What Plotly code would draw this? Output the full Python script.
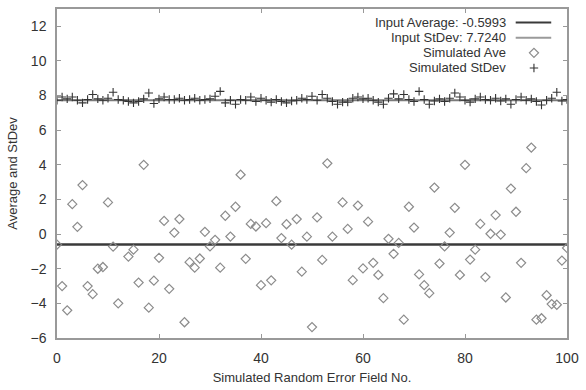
import plotly.graph_objects as go

field_no = list(range(0, 101))

sim_ave = [
    -0.61, -3.00, -4.40, 1.73, 0.42, 2.83, -3.00, -3.47, -2.00, -1.90,
    1.83, -0.72, -4.00, None, -1.30, -0.90, -2.80, 4.00, -4.25, -2.69,
    -1.37, 0.76, -3.16, 0.09, 0.87, -5.09, -1.62, -1.94, -1.41, 0.13,
    -0.71, -0.33, -1.94, 1.06, -0.14, 1.58, 3.43, -1.43, 0.59, 0.44,
    -2.95, 0.63, -2.67, 1.90, -0.23, 0.57, -0.61, 0.87, -2.17, -0.15,
    -5.37, 0.97, -1.49, 4.09, -0.15, None, 1.83, 0.30, -2.66, 1.65,
    -1.98, 0.72, -1.66, -2.36, -3.70, -0.27, -1.14, -0.51, -4.94, 1.58,
    0.38, -2.33, -2.95, -3.41, 2.69, -1.70, -0.71, 0.09, 1.52, -2.36,
    4.00, -1.47, -0.90, 0.59, -2.48, 0.02, 1.10, -0.03, -3.66, 2.63,
    1.29, -1.66, 3.81, 5.00, -4.94, -4.86, -3.53, -4.04, -4.08, -1.53,
    -0.80,
]

sim_std = [
    7.73, 7.92, 7.81, 7.92, 7.73, 7.58, 7.77, 8.06, 7.81, 7.73,
    7.85, 8.19, 7.77, 7.73, 7.66, 7.58, 7.66, 7.81, 8.15, 7.54,
    7.81, 7.92, 7.77, 7.77, 7.85, 7.73, 7.77, 7.85, 7.73, 7.77,
    7.81, 7.96, 8.24, 7.58, 7.73, 7.50, 7.77, 7.73, 7.92, 7.66,
    7.85, 7.73, 7.62, 7.77, 7.66, 7.58, 7.69, 7.73, 7.85, 7.77,
    7.96, 7.73, 8.06, 7.85, 7.66, 7.50, 7.62, 7.62, 7.85, 7.92,
    7.81, 7.85, 7.73, 7.62, 7.50, 7.85, 8.10, 7.81, 8.06, 7.77,
    7.66, 8.24, 7.77, 7.50, 7.69, 7.81, 7.66, 7.85, 8.15, 7.92,
    7.73, 7.62, 7.81, 7.92, 7.77, 7.73, 7.85, 7.69, 7.81, 7.50,
    7.77, 7.92, 7.73, 7.81, 7.66, 7.46, 7.73, 7.85, 8.19, 7.69,
    7.77,
]

input_average = -0.5993
input_stdev = 7.7240

legend_labels = ["Input Average: -0.5993", "Input StDev: 7.7240", "Simulated Ave", "Simulated StDev"]

FONT = "Liberation Sans, Arial, sans-serif"
TXT = "#333333"
AXC = "#999999"

fig = go.Figure()

fig.add_trace(go.Scatter(x=[0, 100], y=[input_average, input_average], mode="lines",
                         line=dict(color="#3a3a3a", width=2.5), showlegend=False, hoverinfo="skip"))
fig.add_trace(go.Scatter(x=[0, 100], y=[input_stdev, input_stdev], mode="lines",
                         line=dict(color="#7a7a7a", width=2), showlegend=False, hoverinfo="skip"))
fig.add_trace(go.Scatter(x=field_no, y=sim_ave, mode="markers",
                         marker=dict(symbol="diamond-open", size=7, color="#8c8c8c", line=dict(width=1.2, color="#8c8c8c")),
                         showlegend=False))
fig.add_trace(go.Scatter(x=field_no, y=sim_std, mode="markers",
                         marker=dict(symbol="cross-thin-open", size=6, color="#333333", line=dict(width=1.1, color="#333333")),
                         showlegend=False))

# legend (manual, symbols on the right as in the reference)
leg_rows = [20.5, 35.8, 51.1, 66.4]
fig.add_trace(go.Scatter(x=[522, 558], y=[leg_rows[0]] * 2, mode="lines", xaxis="x2", yaxis="y2",
                         line=dict(color="#3a3a3a", width=2), showlegend=False, hoverinfo="skip"))
fig.add_trace(go.Scatter(x=[522, 558], y=[leg_rows[1]] * 2, mode="lines", xaxis="x2", yaxis="y2",
                         line=dict(color="#9a9a9a", width=2), showlegend=False, hoverinfo="skip"))
fig.add_trace(go.Scatter(x=[540.5], y=[leg_rows[2]], mode="markers", xaxis="x2", yaxis="y2",
                         marker=dict(symbol="diamond-open", size=7, color="#8c8c8c", line=dict(width=1.2, color="#8c8c8c")),
                         showlegend=False, hoverinfo="skip"))
fig.add_trace(go.Scatter(x=[540.5], y=[leg_rows[3]], mode="markers", xaxis="x2", yaxis="y2",
                         marker=dict(symbol="cross-thin-open", size=6, color="#333333", line=dict(width=1.1, color="#333333")),
                         showlegend=False, hoverinfo="skip"))

annotations = []
for lab, yy in zip(legend_labels, leg_rows):
    annotations.append(dict(x=514, y=yy, xref="x2", yref="y2", text=lab, showarrow=False,
                            xanchor="right", yanchor="middle", font=dict(family=FONT, size=13, color=TXT)))

fig.update_layout(
    width=586, height=390,
    margin=dict(l=57, r=12, t=7, b=51),
    paper_bgcolor="white", plot_bgcolor="white",
    font=dict(family=FONT, size=14, color=TXT),
    annotations=annotations,
    xaxis=dict(range=[0, 100], tickvals=[0, 20, 40, 60, 80, 100], ticks="inside", ticklen=4, tickcolor=AXC,
               showline=True, linecolor=AXC, linewidth=1.5, mirror="ticks", showgrid=False, zeroline=False,
               title=dict(text="Simulated Random Error Field No.", font=dict(size=13, color=TXT), standoff=8),
               ticklabelstandoff=6, tickfont=dict(size=14, color=TXT)),
    yaxis=dict(range=[-6, 13], tickvals=[-6, -4, -2, 0, 2, 4, 6, 8, 10, 12], ticks="inside", ticklen=4, tickcolor=AXC,
               showline=True, linecolor=AXC, linewidth=1.5, mirror="ticks", showgrid=False, zeroline=False,
               title=dict(text="Average and StDev", font=dict(size=13, color=TXT), standoff=10),
               ticklabelstandoff=6, tickfont=dict(size=14, color=TXT)),
    xaxis2=dict(range=[57, 574], overlaying="x", visible=False, fixedrange=True),
    yaxis2=dict(range=[339.3, 6.8], overlaying="y", visible=False, fixedrange=True),
)

fig.write_html("out.html")
